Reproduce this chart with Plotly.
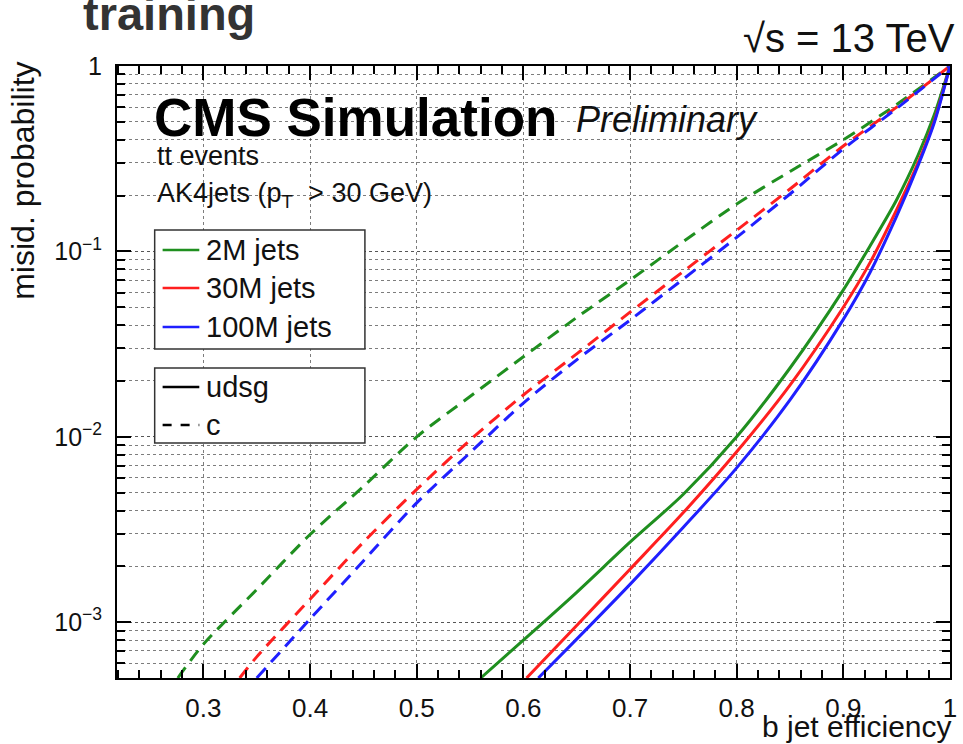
import math
import plotly.graph_objects as go

# ---- b-tagging ROC curves: misidentification probability vs b jet efficiency ----
# light-flavour (udsg) curves
eff_udsg_2m = [0.560, 0.60, 0.65, 0.70, 0.75, 0.80, 0.85, 0.90, 0.925, 0.95, 0.97, 0.985, 1.0]
mis_udsg_2m = [5.0e-4, 8.0e-4, 1.45e-3, 2.7e-3, 4.9e-3, 1.0e-2, 2.35e-2, 6.2e-2, 0.107, 0.19, 0.33, 0.54, 1.0]

eff_udsg_30m = [0.603, 0.65, 0.70, 0.75, 0.80, 0.85, 0.90, 0.925, 0.95, 0.97, 0.985, 1.0]
mis_udsg_30m = [5.0e-4, 9.6e-4, 1.93e-3, 3.9e-3, 8.3e-3, 1.9e-2, 5.0e-2, 8.7e-2, 0.168, 0.30, 0.50, 1.0]

eff_udsg_100m = [0.614, 0.65, 0.70, 0.75, 0.80, 0.85, 0.90, 0.925, 0.95, 0.97, 0.985, 1.0]
mis_udsg_100m = [5.0e-4, 8.1e-4, 1.6e-3, 3.25e-3, 6.8e-3, 1.58e-2, 4.3e-2, 7.7e-2, 0.155, 0.29, 0.49, 1.0]

# charm (c) curves
eff_c_2m = [0.276, 0.30, 0.35, 0.40, 0.45, 0.50, 0.55, 0.60, 0.65, 0.70, 0.75, 0.80, 0.85, 0.90, 0.95, 1.0]
mis_c_2m = [5.0e-4, 7.6e-4, 1.5e-3, 2.97e-3, 5.4e-3, 1.0e-2, 1.65e-2, 2.7e-2, 4.4e-2, 7.0e-2, 0.113, 0.18, 0.27, 0.40, 0.62, 1.0]

eff_c_30m = [0.334, 0.35, 0.40, 0.45, 0.50, 0.55, 0.60, 0.65, 0.70, 0.75, 0.80, 0.85, 0.90, 0.95, 1.0]
mis_c_30m = [5.0e-4, 6.5e-4, 1.33e-3, 2.7e-3, 5.2e-3, 9.6e-3, 1.68e-2, 2.8e-2, 4.7e-2, 7.8e-2, 0.13, 0.217, 0.37, 0.60, 1.0]

eff_c_100m = [0.350, 0.40, 0.45, 0.50, 0.55, 0.60, 0.65, 0.70, 0.75, 0.80, 0.85, 0.90, 0.95, 1.0]
mis_c_100m = [5.0e-4, 1.04e-3, 2.14e-3, 4.4e-3, 8.2e-3, 1.52e-2, 2.6e-2, 4.26e-2, 7.1e-2, 0.119, 0.204, 0.357, 0.59, 1.0]

x_tickvals = [0.3, 0.4, 0.5, 0.6, 0.7, 0.8, 0.9, 1.0]
x_ticktext = ["0.3", "0.4", "0.5", "0.6", "0.7", "0.8", "0.9", "1"]
y_tickvals = [1e-3, 1e-2, 1e-1, 1.0]
y_ticktext = ["10<sup>\u22123</sup>", "10<sup>\u22122</sup>", "10<sup>\u22121</sup>", "1"]

legend_sizes = ["2M jets", "30M jets", "100M jets"]
legend_flavours = ["udsg", "c"]

GREEN = "#1f8f1f"
RED = "#ff1f1f"
BLUE = "#1f1fff"
FONT = "Liberation Sans, Arial, Helvetica, sans-serif"

W, H = 963, 744
ML, MR, MT, MB = 117, 6, 66, 66
PW, PH = W - ML - MR, H - MT - MB


def px(x):
    return (x - ML) / PW


def py(y):
    return (H - MB - y) / PH


fig = go.Figure()

series = [
    (eff_c_2m, mis_c_2m, GREEN, "13px,8px"),
    (eff_c_30m, mis_c_30m, RED, "13px,8px"),
    (eff_c_100m, mis_c_100m, BLUE, "13px,8px"),
    (eff_udsg_2m, mis_udsg_2m, GREEN, "solid"),
    (eff_udsg_30m, mis_udsg_30m, RED, "solid"),
    (eff_udsg_100m, mis_udsg_100m, BLUE, "solid"),
]
for xs, ys, col, dash in series:
    fig.add_trace(go.Scatter(
        x=xs, y=ys, mode="lines", showlegend=False, hoverinfo="skip",
        line=dict(color=col, width=3, dash=dash, shape="spline", smoothing=0.8),
    ))

grid_col = "rgba(70,70,70,0.7)"

fig.update_layout(
    width=W, height=H,
    margin=dict(l=ML, r=MR, t=MT, b=MB, pad=0),
    paper_bgcolor="white", plot_bgcolor="white",
    font=dict(family=FONT, color="#111111"),
    showlegend=False,
    xaxis=dict(
        range=[0.219, 1.0], tickvals=x_tickvals, ticktext=x_ticktext,
        ticks="inside", ticklen=14, tickwidth=1.5, tickcolor="black",
        showline=True, linecolor="black", linewidth=2, mirror="allticks",
        showgrid=True, gridcolor=grid_col, griddash="dot", gridwidth=1,
        zeroline=False, tickfont=dict(size=26, family=FONT, color="#111111"),
        ticklabelstandoff=6,
        minor=dict(ticks="inside", ticklen=8, tickwidth=1.5, tickcolor="black",
                   tick0=0.2, dtick=0.02, showgrid=False),
    ),
    yaxis=dict(
        type="log", range=[math.log10(5e-4), 0.0],
        tickvals=y_tickvals, ticktext=y_ticktext,
        ticks="inside", ticklen=14, tickwidth=1.5, tickcolor="black",
        showline=True, linecolor="black", linewidth=2, mirror="allticks",
        showgrid=True, gridcolor=grid_col, griddash="dot", gridwidth=1,
        zeroline=False, tickfont=dict(size=25, family=FONT, color="#111111"),
        ticklabelstandoff=8,
        minor=dict(ticks="inside", ticklen=8, tickwidth=1.5, tickcolor="black",
                   dtick="D1", showgrid=True, gridcolor=grid_col,
                   griddash="dot", gridwidth=1),
    ),
)

ann = []


def text(s, x, y, size, xanchor="left", yanchor="middle", **kw):
    ann.append(dict(text=s, x=px(x), y=py(y), xref="paper", yref="paper",
                    xanchor=xanchor, yanchor=yanchor, showarrow=False,
                    font=dict(size=size, family=FONT, color=kw.pop("color", "#111111")),
                    **kw))


text("<b>training</b>", 81, 13, 47, color="#333333")
text("\u221as = 13 TeV", 964, 38, 40, xanchor="right")
text("<b>CMS Simulation</b>", 152, 117, 53, color="black")
text("<i>Preliminary</i>", 578, 119, 36)
text("tt events", 155, 156, 27)
text("AK4jets (p<sub>T</sub>\u00a0\u00a0> 30 GeV)", 155, 195, 27)
text("b jet efficiency", 961, 726, 30, xanchor="right")
ann.append(dict(text="misid. probability", x=px(22), y=py(60), xref="paper", yref="paper",
                xanchor="center", yanchor="top", textangle=-90, showarrow=False,
                font=dict(size=32, family=FONT, color="#111111")))

shapes = []
# legend frames
for (x0, y0, x1, y1) in [(155, 230, 367, 349), (155, 368, 367, 443)]:
    shapes.append(dict(type="rect", xref="paper", yref="paper",
                       x0=px(x0), x1=px(x1), y0=py(y1), y1=py(y0),
                       line=dict(color="#333333", width=1.5), fillcolor="white",
                       layer="above"))

rows1 = [250, 288, 327]
for label, col, yy in zip(legend_sizes, [GREEN, RED, BLUE], rows1):
    shapes.append(dict(type="line", xref="paper", yref="paper",
                       x0=px(163), x1=px(200), y0=py(yy), y1=py(yy),
                       line=dict(color=col, width=2.5), layer="above"))
    text(label, 205, yy, 29)

rows2 = [387, 425]
for label, dash, yy in zip(legend_flavours, ["solid", "dash"], rows2):
    shapes.append(dict(type="line", xref="paper", yref="paper",
                       x0=px(163), x1=px(200), y0=py(yy), y1=py(yy),
                       line=dict(color="black", width=2.5, dash=dash), layer="above"))
    text(label, 205, yy, 29)

fig.update_layout(annotations=ann, shapes=shapes)

fig.write_html("out.html")
